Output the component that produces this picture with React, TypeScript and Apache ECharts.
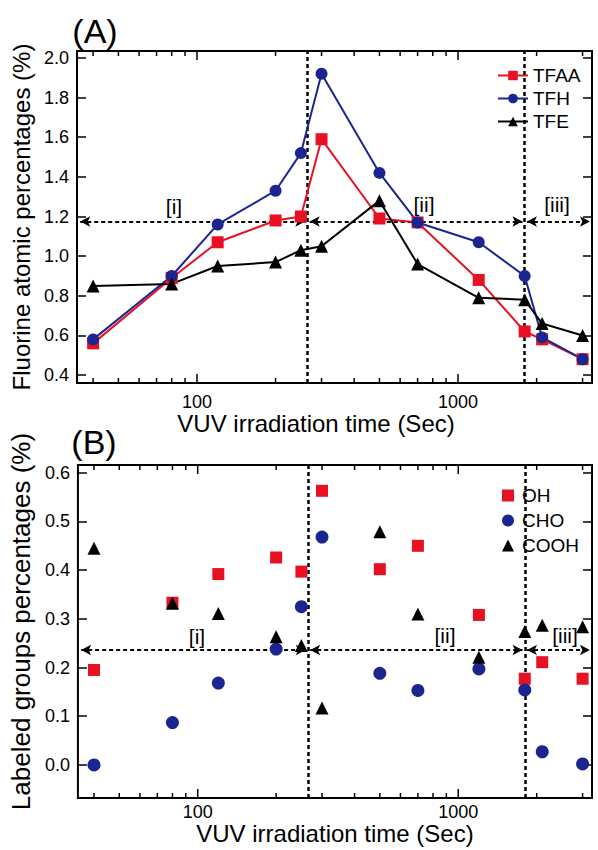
import React, { useEffect, useRef } from 'react';
import * as echarts from 'echarts';

const times = [40, 80, 120, 200, 250, 300, 500, 700, 1200, 1800, 2100, 3000];
const tfaa = [0.56, 0.89, 1.07, 1.18, 1.2, 1.59, 1.19, 1.17, 0.88, 0.62, 0.58, 0.48];
const tfh = [0.58, 0.9, 1.16, 1.33, 1.52, 1.92, 1.42, 1.17, 1.07, 0.9, 0.59, 0.48];
const tfe = [0.85, 0.86, 0.95, 0.97, 1.03, 1.05, 1.28, 0.96, 0.79, 0.78, 0.66, 0.6];
const oh = [0.195, 0.333, 0.392, 0.426, 0.397, 0.563, 0.402, 0.45, 0.308, 0.177, 0.211, 0.177];
const cho = [0.0, 0.087, 0.168, 0.238, 0.325, 0.468, 0.188, 0.153, 0.197, 0.154, 0.027, 0.002];
const cooh = [0.445, 0.332, 0.311, 0.263, 0.245, 0.117, 0.479, 0.31, 0.221, 0.274, 0.287, 0.284];

const xTicks = [40, 50, 60, 70, 80, 90, 100, 200, 300, 400, 500, 600, 700, 800, 900, 1000, 2000, 3000];
const xMajor = [100, 1000];
const xRange = [34.7, 3260];
const yRangeA = [0.36, 2.035];
const yRangeB = [-0.068, 0.616];
const yStepA = 0.2;
const yStepB = 0.1;
const phaseBounds = [265, 1800];
const arrowEnds = [35.7, 3200];
const arrowLevelA = 1.175;
const arrowLevelB = 0.236;
const regionLabels = ['[i]', '[ii]', '[iii]'];
const seriesNamesA = ['TFAA', 'TFH', 'TFE'];
const seriesNamesB = ['OH', 'CHO', 'COOH'];

const RED = '#e81123';
const BLUE = '#1b2590';
const BLACK = '#000000';
const FONT = 'Liberation Sans, Arial, Helvetica, sans-serif';

function stepFormatter(step: number) {
  return (v: number) => {
    const r = v / step;
    return Math.abs(r - Math.round(r)) < 1e-6 ? v.toFixed(1) : '';
  };
}

function logLabel(v: number) {
  const l = Math.log10(v);
  const r = Math.round(l);
  if (Math.abs(l - r) < 1e-6 && xMajor.includes(Math.pow(10, r))) return String(Math.pow(10, r));
  return '';
}

function tickSeries(xi: number, yi: number, yMin: number) {
  return {
    type: 'custom',
    xAxisIndex: xi,
    yAxisIndex: yi,
    silent: true,
    clip: false,
    z: 10,
    data: xTicks.map((v) => [v, xMajor.includes(v) ? 1 : 0]),
    renderItem: (params: any, api: any) => {
      const cs = params.coordSys;
      const px = api.coord([api.value(0), yMin])[0];
      const len = api.value(1) ? 9 : 5;
      const bottom = cs.y + cs.height;
      return {
        type: 'group',
        children: [
          { type: 'line', shape: { x1: px, y1: bottom, x2: px, y2: bottom - len }, style: { stroke: BLACK, lineWidth: 1.5 } },
          { type: 'line', shape: { x1: px, y1: cs.y, x2: px, y2: cs.y + len }, style: { stroke: BLACK, lineWidth: 1.5 } },
        ],
      };
    },
  };
}

function arrowLines(level: number) {
  const a = { symbol: 'arrow' };
  return [
    [{ coord: [arrowEnds[0], level], ...a }, { coord: [phaseBounds[0] / 1.02, level], ...a }],
    [{ coord: [phaseBounds[0] * 1.02, level], ...a }, { coord: [phaseBounds[1] / 1.02, level], ...a }],
    [{ coord: [phaseBounds[1] * 1.02, level], ...a }, { coord: [arrowEnds[1], level], ...a }],
  ];
}

const dashStyle = { color: BLACK, width: 2, type: [4, 3] as any, opacity: 1 };

function vLines() {
  return {
    silent: true,
    symbol: ['none', 'none'],
    label: { show: false },
    lineStyle: { ...dashStyle, width: 2.5 },
    emphasis: { disabled: true },
    data: phaseBounds.map((x) => ({ xAxis: x })),
  };
}

function hLines(level: number) {
  return {
    silent: true,
    symbol: ['arrow', 'arrow'],
    symbolSize: [8, 10],
    label: { show: false },
    lineStyle: dashStyle,
    emphasis: { disabled: true },
    data: arrowLines(level),
  };
}

function xAxisCfg(grid: number, labelMargin: number, nameGap: number, namePad: number[]) {
  return {
    gridIndex: grid,
    type: 'log',
    logBase: 10,
    min: xRange[0],
    max: xRange[1],
    axisLine: { show: false },
    axisTick: { show: false },
    splitLine: { show: false },
    minorTick: { show: false },
    axisLabel: { formatter: logLabel, fontSize: 18, color: BLACK, margin: labelMargin, fontFamily: FONT },
    name: 'VUV irradiation time (Sec)',
    nameLocation: 'middle',
    nameGap,
    nameTextStyle: { fontSize: 24, color: BLACK, fontFamily: FONT, padding: namePad },
  };
}

function yAxisCfg(grid: number, range: number[], step: number, right: boolean, name?: string, nameSize?: number, nameGap?: number, namePad?: number[]) {
  return {
    gridIndex: grid,
    type: 'value',
    position: right ? 'right' : 'left',
    min: range[0],
    max: range[1],
    minInterval: step,
    maxInterval: step,
    splitNumber: Math.round((range[1] - range[0]) / step),
    axisLine: { show: false },
    axisTick: { show: true, inside: true, length: 9, lineStyle: { color: BLACK, width: 1.5 } },
    splitLine: { show: false },
    axisLabel: { show: !right, formatter: stepFormatter(step), fontSize: 18, color: BLACK, margin: 8, fontFamily: FONT },
    name: right ? '' : name,
    nameLocation: 'middle',
    nameGap: nameGap ?? 40,
    nameTextStyle: { fontSize: nameSize ?? 24, color: BLACK, fontFamily: FONT, padding: namePad ?? [0, 0, 0, 0] },
  };
}

function pairs(ys: number[]) {
  return times.map((t, i) => [t, ys[i]]);
}

function textEl(text: string, x: number, y: number, size: number) {
  return {
    type: 'text',
    x,
    y,
    style: { text, fontSize: size, fontFamily: FONT, fill: BLACK, align: 'center', verticalAlign: 'middle' },
  };
}

export default function App() {
  const ref = useRef<HTMLDivElement>(null);
  useEffect(() => {
    document.body.style.margin = '0';
    const chart = echarts.init(ref.current!, null, { renderer: 'svg' });
    const lineSeries = (name: string, ys: number[], color: string, symbol: string, size: number, extra: any = {}) => ({
      type: 'line',
      name,
      xAxisIndex: 0,
      yAxisIndex: 0,
      data: pairs(ys),
      symbol,
      symbolSize: size,
      showAllSymbol: true,
      clip: false,
      lineStyle: { color, width: 2 },
      itemStyle: { color, opacity: 1 },
      emphasis: { disabled: true },
      z: 5,
      ...extra,
    });
    const scatterSeries = (name: string, ys: number[], color: string, symbol: string, size: number, extra: any = {}) => ({
      type: 'scatter',
      name,
      xAxisIndex: 1,
      yAxisIndex: 1,
      data: pairs(ys),
      symbol,
      symbolSize: size,
      clip: false,
      itemStyle: { color, opacity: 1 },
      emphasis: { disabled: true },
      z: 5,
      ...extra,
    });
    const option: any = {
      animation: false,
      textStyle: { fontFamily: FONT },
      grid: [
        { left: 77, top: 51, width: 515, height: 332, show: true, borderColor: BLACK, borderWidth: 2, backgroundColor: 'transparent' },
        { left: 77, top: 465, width: 515, height: 333, show: true, borderColor: BLACK, borderWidth: 2, backgroundColor: 'transparent' },
      ],
      xAxis: [xAxisCfg(0, 10, 21, [0, 37, 0, 0]), xAxisCfg(1, 5, 22, [0, 0, 0, 0])],
      yAxis: [
        yAxisCfg(0, yRangeA, yStepA, false, 'Fluorine atomic percentages (%)', 24, 41),
        yAxisCfg(1, yRangeB, yStepB, false, 'Labeled groups percentages (%)', 26, 40, [0, 0, 0, 20]),
        yAxisCfg(0, yRangeA, yStepA, true),
        yAxisCfg(1, yRangeB, yStepB, true),
      ],
      legend: [
        {
          data: seriesNamesA,
          left: 492,
          top: 61,
          orient: 'vertical',
          itemWidth: 30,
          itemHeight: 12,
          itemGap: 4,
          selectedMode: false,
          textStyle: { fontSize: 19, color: BLACK, fontFamily: FONT },
        },
        {
          data: seriesNamesB,
          left: 497,
          top: 481,
          orient: 'vertical',
          itemWidth: 12,
          itemHeight: 12,
          itemGap: 6,
          selectedMode: false,
          textStyle: { fontSize: 19, color: BLACK, fontFamily: FONT, padding: [0, 0, 0, 3] },
        },
      ],
      series: [
        lineSeries(seriesNamesA[0], tfaa, RED, 'rect', 12, { markLine: vLines() }),
        lineSeries(seriesNamesA[1], tfh, BLUE, 'circle', 12, { markLine: hLines(arrowLevelA) }),
        lineSeries(seriesNamesA[2], tfe, BLACK, 'triangle', 13),
        tickSeries(0, 0, yRangeA[0]),
        scatterSeries(seriesNamesB[0], oh, RED, 'rect', 12, { markLine: vLines() }),
        scatterSeries(seriesNamesB[1], cho, BLUE, 'circle', 13, { markLine: hLines(arrowLevelB) }),
        scatterSeries(seriesNamesB[2], cooh, BLACK, 'triangle', 13),
        tickSeries(1, 1, yRangeB[0]),
      ],
      graphic: [
        textEl('(A)', 95, 31, 34),
        textEl('(B)', 94, 442, 34),
        textEl(regionLabels[0], 174, 206, 21),
        textEl(regionLabels[1], 424, 204, 21),
        textEl(regionLabels[2], 557, 204, 21),
        textEl(regionLabels[0], 197, 636, 21),
        textEl(regionLabels[1], 445, 635, 21),
        textEl(regionLabels[2], 565, 635, 21),
      ],
    };
    chart.setOption(option);
    return () => chart.dispose();
  }, []);
  return <div ref={ref} style={{ width: 598, height: 850 }} />;
}
